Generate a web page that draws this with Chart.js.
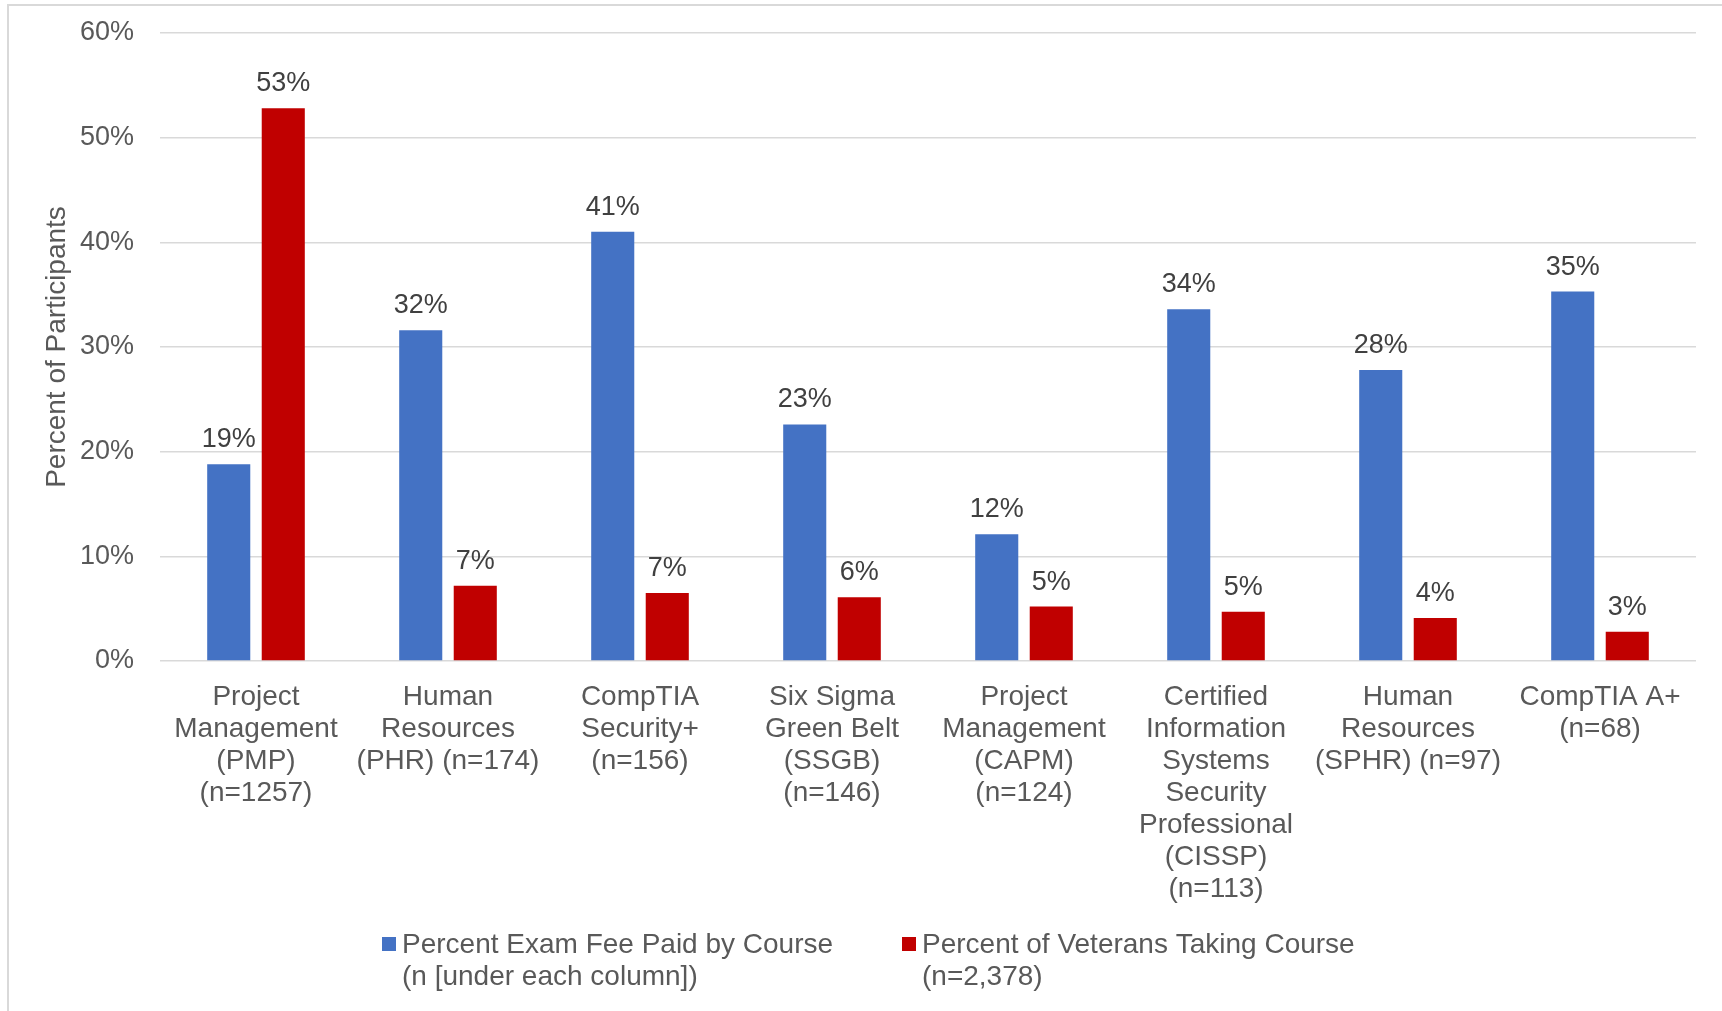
<!DOCTYPE html>
<html>
<head>
<meta charset="utf-8">
<script src="https://cdn.jsdelivr.net/npm/chart.js@4.4.1/dist/chart.umd.min.js"></script>
<style>
  html, body { margin: 0; padding: 0; background: #ffffff; overflow: hidden; }
  #wrap { position: relative; width: 1722px; height: 1011px; }
  #frame { position: absolute; left: 7px; top: 4px; width: 1730px; height: 1030px; border: 2px solid #d9d9d9; box-sizing: border-box; pointer-events: none; }
  canvas { position: absolute; left: 0; top: 0; }
</style>
</head>
<body>
<div id="wrap">
  <canvas id="c" width="1722" height="1011"></canvas>
  <div id="frame"></div>
</div>
<script>
const categories = [
  ["Project", "Management", "(PMP)", "(n=1257)"],
  ["Human", "Resources", "(PHR) (n=174)"],
  ["CompTIA", "Security+", "(n=156)"],
  ["Six Sigma", "Green Belt", "(SSGB)", "(n=146)"],
  ["Project", "Management", "(CAPM)", "(n=124)"],
  ["Certified", "Information", "Systems", "Security", "Professional", "(CISSP)", "(n=113)"],
  ["Human", "Resources", "(SPHR) (n=97)"],
  ["CompTIA A+", "(n=68)"]
];
const examFeePaid = [18.8, 31.6, 41.0, 22.6, 12.1, 33.6, 27.8, 35.3];
const veteransTaking = [52.8, 7.2, 6.5, 6.1, 5.2, 4.7, 4.1, 2.8];
const yTickValues = [0, 10, 20, 30, 40, 50, 60];
const seriesNames = [
  ["Percent Exam Fee Paid by Course", "(n [under each column])"],
  ["Percent of Veterans Taking Course", "(n=2,378)"]
];
const axisTitle = "Percent of Participants";

const FONT = "'Liberation Sans', Arial, sans-serif";
const FS = 27;
const FS_L = 28;

const valueLabels = {
  id: 'valueLabels',
  afterDatasetsDraw(chart) {
    const ctx = chart.ctx;
    ctx.save();
    ctx.font = FS + "px " + FONT;
    ctx.fillStyle = '#404040';
    ctx.textAlign = 'center';
    ctx.textBaseline = 'alphabetic';
    chart.data.datasets.forEach((ds, di) => {
      const meta = chart.getDatasetMeta(di);
      meta.data.forEach((bar, i) => {
        ctx.fillText(Math.round(ds.data[i]) + '%', bar.x, bar.y - 17);
      });
    });
    ctx.restore();
  }
};

const customLegend = {
  id: 'customLegend',
  afterDraw(chart) {
    const ctx = chart.ctx;
    ctx.save();
    ctx.font = FS_L + "px " + FONT;
    ctx.textAlign = 'left';
    ctx.textBaseline = 'alphabetic';
    const boxX = [382, 902];
    chart.data.datasets.forEach((ds, di) => {
      ctx.fillStyle = ds.backgroundColor;
      ctx.fillRect(boxX[di], 937, 14, 14);
      ctx.fillStyle = '#595959';
      ds.label.forEach((line, li) => {
        ctx.fillText(line, boxX[di] + 20, 953 + li * 32);
      });
    });
    ctx.restore();
  }
};

new Chart(document.getElementById('c'), {
  type: 'bar',
  data: {
    labels: categories,
    datasets: [
      { label: seriesNames[0], data: examFeePaid, backgroundColor: '#4472C4', categoryPercentage: 0.568, barPercentage: 0.79 },
      { label: seriesNames[1], data: veteransTaking, backgroundColor: '#C00000', categoryPercentage: 0.568, barPercentage: 0.79 }
    ]
  },
  options: {
    responsive: false,
    devicePixelRatio: 1,
    animation: false,
    layout: { padding: { left: 0, top: 33, right: 26, bottom: 0 } },
    plugins: { legend: { display: false }, tooltip: { enabled: false } },
    scales: {
      x: {
        grid: { display: false, drawTicks: false },
        border: { display: false },
        ticks: {
          color: '#595959',
          font: { family: FONT, size: FS_L, lineHeight: 32 / FS_L },
          padding: 20,
          maxRotation: 0,
          minRotation: 0,
          autoSkip: false
        },
        afterFit(scale) { scale.height = 350; }
      },
      y: {
        min: 0,
        max: 60,
        afterBuildTicks(scale) { scale.ticks = yTickValues.map(v => ({ value: v })); },
        grid: { color: '#d9d9d9', lineWidth: 1.5, drawTicks: false },
        border: { display: false },
        ticks: {
          color: '#595959',
          font: { family: FONT, size: FS },
          padding: 26,
          callback: v => v + '%'
        },
        title: {
          display: true,
          text: axisTitle,
          color: '#595959',
          font: { family: FONT, size: FS_L, lineHeight: 1.2 },
          padding: { top: 40, bottom: 0 }
        },
        afterFit(scale) {
          scale.width = 160;
          scale.paddingTop = 0;
          scale.paddingBottom = 0;
        }
      }
    }
  },
  plugins: [valueLabels, customLegend]
});
</script>
</body>
</html>
